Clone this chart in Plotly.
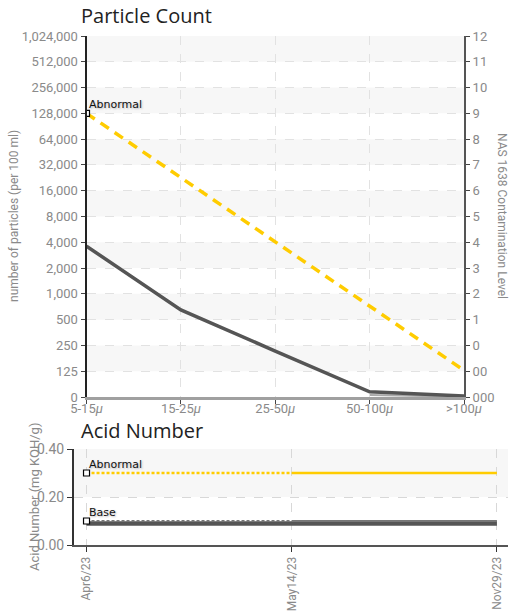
import math
import plotly.graph_objects as go

# ---------------- data ----------------
size_bins = ["5-15μ", "15-25μ", "25-50μ", "50-100μ", ">100μ"]
particle_counts = [3600, 650, 215, 25, 5]
particle_counts_prev = [None, None, None, 10, 1]
nas9_abnormal = [128000, 22800, 4050, 720, 128]
count_tick_labels = ["0", "125", "250", "500", "1,000", "2,000", "4,000", "8,000",
                     "16,000", "32,000", "64,000", "128,000", "256,000", "512,000", "1,024,000"]
nas_tick_labels = ["000", "00", "0", "1", "2", "3", "4", "5", "6", "7", "8", "9", "10", "11", "12"]

sample_dates = ["Apr6/23", "May14/23", "Nov29/23"]
acid_values = [0.09, 0.09, 0.09]
acid_abnormal = [0.30, 0.30, 0.30]
acid_base = [0.10, 0.10, 0.10]


def count_scale(v):
    """NAS-style doubling scale: 0..125 linear, then one step per doubling."""
    if v is None:
        return None
    return v / 125.0 if v < 125 else 1 + math.log2(v / 125.0)


W, H = 516, 613
def fx(px):
    return px / W
def fy(py):
    return 1 - py / H

TICK_FONT = dict(family="Liberation Sans Narrow, Roboto, Liberation Sans, sans-serif", size=13, color="#8a8a8a")
GRID = "#e2e2e2"

fig = go.Figure()

# ---- top chart traces ----
fig.add_trace(go.Scatter(
    x=size_bins, y=[count_scale(v) for v in nas9_abnormal], xaxis="x", yaxis="y",
    mode="lines", line=dict(color="#FFCC00", width=3.5, dash="10px,7px"),
    hoverinfo="skip", showlegend=False))
fig.add_trace(go.Scatter(
    x=size_bins, y=[count_scale(v) for v in particle_counts_prev], xaxis="x", yaxis="y",
    mode="lines", line=dict(color="#aaaaaa", width=2), hoverinfo="skip", showlegend=False))
fig.add_trace(go.Scatter(
    x=size_bins, y=[count_scale(v) for v in particle_counts], xaxis="x", yaxis="y",
    mode="lines", line=dict(color="#555555", width=3.5), hoverinfo="skip", showlegend=False))
fig.add_trace(go.Scatter(
    x=[size_bins[0]], y=[count_scale(nas9_abnormal[0])], xaxis="x", yaxis="y",
    mode="markers", marker=dict(symbol="square", size=6, color="white", line=dict(color="black", width=1.2)),
    hoverinfo="skip", showlegend=False))
# invisible trace for right axis
fig.add_trace(go.Scatter(x=[size_bins[0]], y=[0], xaxis="x", yaxis="y3", mode="markers",
                         marker=dict(opacity=0), hoverinfo="skip", showlegend=False))

# ---- bottom chart traces ----
fig.add_trace(go.Scatter(
    x=sample_dates, y=acid_values, xaxis="x2", yaxis="y2", mode="lines",
    line=dict(color="#555555", width=4.5), hoverinfo="skip", showlegend=False))
for vals, col, w in [(acid_abnormal, "#FFCC00", 2.5), (acid_base, "#777777", 2)]:
    fig.add_trace(go.Scatter(
        x=sample_dates[:2], y=vals[:2], xaxis="x2", yaxis="y2", mode="lines",
        line=dict(color=col, width=w, dash="3px,2px"), hoverinfo="skip", showlegend=False))
    fig.add_trace(go.Scatter(
        x=sample_dates[1:], y=vals[1:], xaxis="x2", yaxis="y2", mode="lines",
        line=dict(color=col, width=w), hoverinfo="skip", showlegend=False))
fig.add_trace(go.Scatter(
    x=[sample_dates[0], sample_dates[0]], y=[acid_abnormal[0], acid_base[0]], xaxis="x2", yaxis="y2",
    mode="markers", marker=dict(symbol="square", size=6, color="white", line=dict(color="black", width=1.2)),
    hoverinfo="skip", showlegend=False))

# ---- bands ----
shapes = []
for k in range(1, 14, 2):
    shapes.append(dict(type="rect", xref="x domain", yref="y", x0=0, x1=1, y0=k, y1=k + 1,
                       fillcolor="#f7f7f7", line=dict(width=0), layer="below"))
shapes.append(dict(type="rect", xref="x2 domain", yref="y2", x0=0, x1=1, y0=0.2, y1=0.4,
                   fillcolor="#f7f7f7", line=dict(width=0), layer="below"))

top_dom_y = [fy(397), fy(36)]
bot_dom_y = [fy(545), fy(449)]

fig.update_layout(
    width=W, height=H, margin=dict(l=0, r=0, t=0, b=0, autoexpand=False),
    paper_bgcolor="white", plot_bgcolor="white", shapes=shapes,
    xaxis=dict(domain=[fx(86.5), fx(464)], anchor="y", type="category", range=[0, 4],
               tickvals=size_bins, ticktext=[s.replace("μ", "<i>μ</i>") for s in size_bins],
               showline=True, linecolor="#a0a0a0", linewidth=3, automargin=False,
               ticks="outside", ticklen=4, tickcolor="#444", tickfont=TICK_FONT, ticklabelstandoff=-7,
               showgrid=True, gridcolor=GRID, griddash="dash", zeroline=False, fixedrange=True),
    yaxis=dict(domain=top_dom_y, anchor="x", range=[0, 14], tickvals=list(range(15)),
               ticktext=count_tick_labels, showline=True, linecolor="#222", linewidth=2,
               ticks="outside", ticklen=4, tickcolor="#444", tickfont=TICK_FONT, automargin=False,
               showgrid=True, gridcolor=GRID, griddash="dash", zeroline=False),
    yaxis3=dict(domain=top_dom_y, anchor="x", overlaying="y", side="right", range=[0, 14],
                tickvals=list(range(15)), ticktext=nas_tick_labels, showline=True,
                linecolor="#555", linewidth=2, ticks="outside", ticklen=4, tickcolor="#444",
                tickfont=TICK_FONT, showgrid=False, zeroline=False, automargin=False),
    xaxis2=dict(domain=[fx(74), fx(508)], anchor="y2", type="category", range=[-0.061, 2.054],
                showline=True, linecolor="#555", linewidth=2, ticks="outside", ticklen=5,
                tickcolor="#333", tickangle=-90, tickfont=dict(TICK_FONT, size=12), automargin=False,
                showgrid=True, gridcolor="#d8d8d8", griddash="dash", zeroline=False),
    yaxis2=dict(domain=bot_dom_y, anchor="x2", range=[0, 0.4], dtick=0.2, tickformat=".2f",
                showline=True, linecolor="#333", linewidth=2, ticks="outside", ticklen=5,
                tickcolor="#333", tickfont=dict(TICK_FONT, size=14), automargin=False,
                showgrid=True, gridcolor="#d8d8d8", griddash="dash", zeroline=False),
)

TITLE_FONT = dict(family="Open Sans, Noto Sans, sans-serif", size=20, color="#222")
LABEL_FONT = dict(family="DejaVu Sans, sans-serif", size=11, color="#111", shadow="1px 1px 2px #bbbbbb")
AXT_FONT = dict(family="Liberation Sans Narrow, Roboto, sans-serif", size=12, color="#8a8a8a")

annotations = [
    dict(text="Particle Count", xref="paper", yref="paper", x=fx(79), y=fy(15),
         xanchor="left", yanchor="middle", showarrow=False, font=TITLE_FONT),
    dict(text="Acid Number", xref="paper", yref="paper", x=fx(79), y=fy(430),
         xanchor="left", yanchor="middle", showarrow=False, font=TITLE_FONT),
    dict(text="number of particles (per 100 ml)", xref="paper", yref="paper", x=fx(14), y=fy(216),
         xanchor="center", yanchor="middle", textangle=-90, showarrow=False, font=AXT_FONT),
    dict(text="NAS 1638 Contamination Level", xref="paper", yref="paper", x=fx(502), y=fy(216),
         xanchor="center", yanchor="middle", textangle=90, showarrow=False, font=AXT_FONT),
    dict(text="Acid Number (mg KOH/g)", xref="paper", yref="paper", x=fx(34), y=fy(497),
         xanchor="center", yanchor="middle", textangle=-90, showarrow=False,
         font=dict(AXT_FONT, size=13)),
    dict(text="Abnormal", xref="x", yref="y", x=0, y=count_scale(nas9_abnormal[0]),
         xanchor="left", yanchor="bottom", yshift=0, showarrow=False, font=LABEL_FONT),
    dict(text="Abnormal", xref="x2", yref="y2", x=0, y=acid_abnormal[0],
         xanchor="left", yanchor="bottom", yshift=0, showarrow=False, font=LABEL_FONT),
    dict(text="Base", xref="x2", yref="y2", x=0, y=acid_base[0],
         xanchor="left", yanchor="bottom", yshift=0, showarrow=False, font=LABEL_FONT),
]
fig.update_layout(annotations=annotations)

fig.write_html("out.html", config={"displayModeBar": False},
               post_script="document.body.style.margin='0px';document.body.style.overflow='hidden';")
